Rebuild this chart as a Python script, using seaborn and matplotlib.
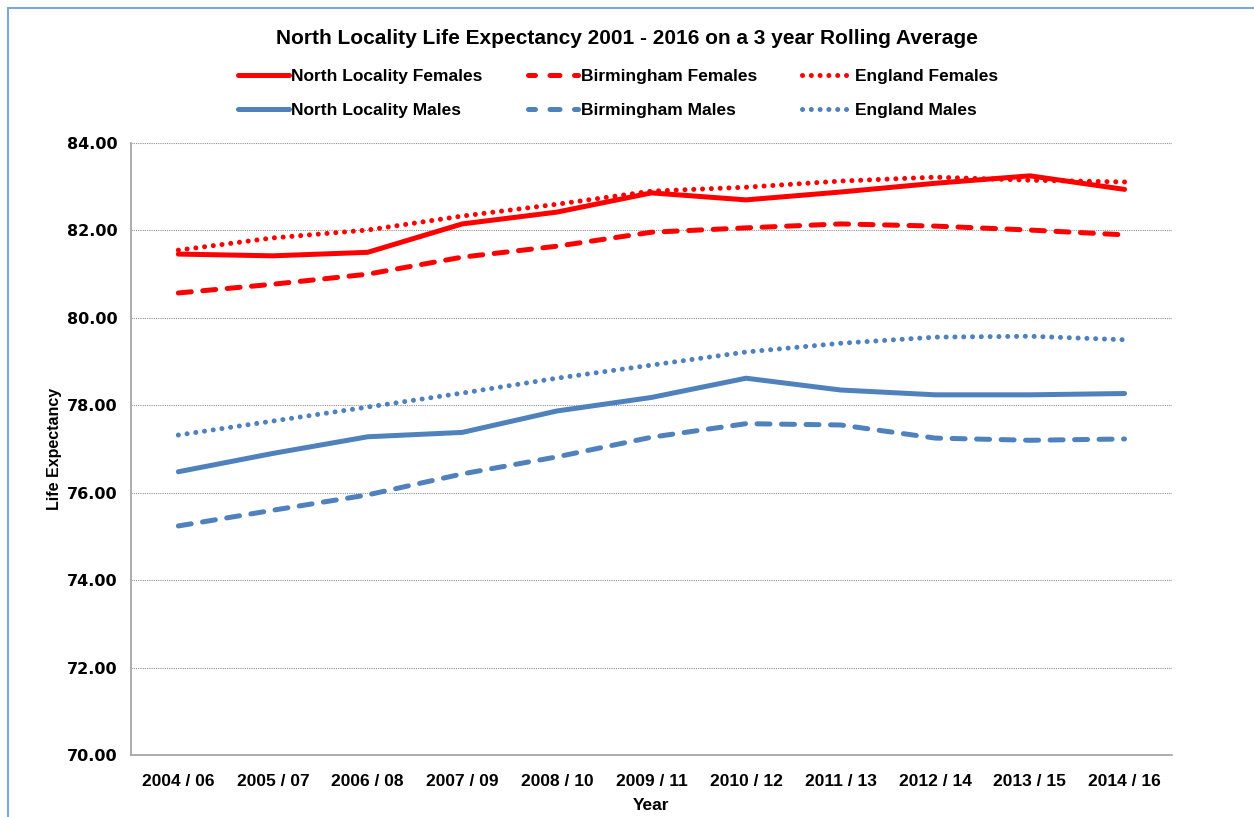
import numpy as np
import pandas as pd
import matplotlib
matplotlib.use("Agg")
import matplotlib.pyplot as plt
import seaborn as sns
from matplotlib.lines import Line2D
from matplotlib.patches import Rectangle

# -----------------------------
# Data
# -----------------------------
years = ["2004 / 06", "2005 / 07", "2006 / 08", "2007 / 09", "2008 / 10", "2009 / 11",
         "2010 / 12", "2011 / 13", "2012 / 14", "2013 / 15", "2014 / 16"]

north_females = [81.46, 81.42, 81.50, 82.15, 82.42, 82.86, 82.70, 82.88, 83.08, 83.25, 82.94]
birmingham_females = [80.57, 80.77, 81.00, 81.39, 81.64, 81.96, 82.06, 82.15, 82.10, 82.01, 81.90]
england_females = [81.55, 81.83, 82.01, 82.33, 82.60, 82.90, 82.99, 83.13, 83.22, 83.15, 83.11]
north_males = [76.48, 76.90, 77.28, 77.38, 77.87, 78.18, 78.62, 78.35, 78.24, 78.24, 78.27]
birmingham_males = [75.24, 75.60, 75.95, 76.43, 76.82, 77.27, 77.58, 77.55, 77.25, 77.20, 77.23]
england_males = [77.32, 77.64, 77.96, 78.28, 78.62, 78.92, 79.22, 79.42, 79.56, 79.58, 79.50]

series = {
    ("North Locality", "Females"): north_females,
    ("Birmingham", "Females"): birmingham_females,
    ("England", "Females"): england_females,
    ("North Locality", "Males"): north_males,
    ("Birmingham", "Males"): birmingham_males,
    ("England", "Males"): england_males,
}

rows = []
for (area, sex), vals in series.items():
    for yr, v in zip(years, vals):
        rows.append({"year": yr, "area": area, "sex": sex, "value": v})
df = pd.DataFrame(rows)

RED = "#FF0000"
BLUE = "#4F81BD"
palette = {"Females": RED, "Males": BLUE}
dash_map = {"North Locality": "", "Birmingham": (2.6, 2.3), "England": (0.01, 1.75)}

FONT = ["Liberation Sans Narrow", "Liberation Sans", "DejaVu Sans"]

# -----------------------------
# Plot
# -----------------------------
sns.set_style("white")
plt.rcParams["font.family"] = ["DejaVu Sans"]
plt.rcParams["text.color"] = "black"
plt.rcParams["axes.labelcolor"] = "black"
plt.rcParams["xtick.color"] = "black"
plt.rcParams["ytick.color"] = "black"

fig = plt.figure(figsize=(12.54, 8.17), dpi=100)
ax = fig.add_axes([0.1045, 0.0759, 0.830, 0.749])

sns.lineplot(data=df, x="year", y="value", hue="sex", style="area",
             palette=palette, dashes=dash_map, linewidth=3.6,
             sort=False, legend=False, ax=ax)
for ln in ax.get_lines():
    ln.set_dash_capstyle("round")
    ln.set_solid_capstyle("round")

ax.set_ylim(70, 84)
ax.set_yticks(np.arange(70, 84.1, 2))
ax.set_yticklabels([f"{t:.2f}" for t in np.arange(70, 84.1, 2)],
                   fontsize=11.5, fontweight="bold")
ax.set_xlim(-0.5, len(years) - 0.5)
ax.set_xticks(range(len(years)))
ax.set_xticklabels(years, fontsize=12.5, fontweight="bold", family=FONT)
ax.set_xticks(np.arange(-0.5, len(years), 1), minor=True)
ax.tick_params(axis="x", which="major", length=0, pad=14)
ax.tick_params(axis="x", which="minor", length=6, color="#A0A0A0", direction="out")
ax.tick_params(axis="y", length=6, color="#A0A0A0", labelcolor="black",
               direction="out", pad=4)
ax.yaxis.grid(True, linestyle=(0, (1, 1)), color="#909090", linewidth=0.8)
ax.set_axisbelow(True)

for side in ["top", "right"]:
    ax.spines[side].set_visible(False)
for side in ["left", "bottom"]:
    ax.spines[side].set_color("#A0A0A0")
    ax.spines[side].set_linewidth(1.2)

ax.set_xlabel("Year", fontsize=12.5, fontweight="bold", labelpad=6, family=FONT)
ax.set_ylabel("Life Expectancy", fontsize=11.5, fontweight="bold", labelpad=3, family=FONT)

fig.text(0.5, 0.953, "North Locality Life Expectancy 2001 - 2016 on a 3 year Rolling Average",
         ha="center", va="center", fontsize=15, fontweight="bold", family=FONT)

# Legend, row-wise order: females on top row, males below
handles, labels = [], []
for area in ["North Locality", "Birmingham", "England"]:
    for sex in ["Females", "Males"]:
        d = dash_map[area]
        if d == "":
            ls = "-"
        elif area == "Birmingham":
            ls = (0.6, (2.0, 2.9))
        else:
            ls = (0, d)
        h = Line2D([], [], color=palette[sex], linestyle=ls, linewidth=3.6,
                   dash_capstyle="round", solid_capstyle="round")
        handles.append(h)
        labels.append(f"{area} {sex}")
fig.legend(handles, labels, ncol=3, loc="center", bbox_to_anchor=(0.493, 0.886),
           frameon=False, handlelength=2.9, handletextpad=0.15, columnspacing=2.6,
           labelspacing=1.1,
           prop={"family": FONT, "size": 12.5, "weight": "bold"})

# chart frame like the reference
fig.patches.append(Rectangle((0.0065, -0.02), 1.2, 1.01, transform=fig.transFigure,
                             fill=False, edgecolor="#7EA6D6", linewidth=1.5))

fig.savefig("out.png", dpi=100)
